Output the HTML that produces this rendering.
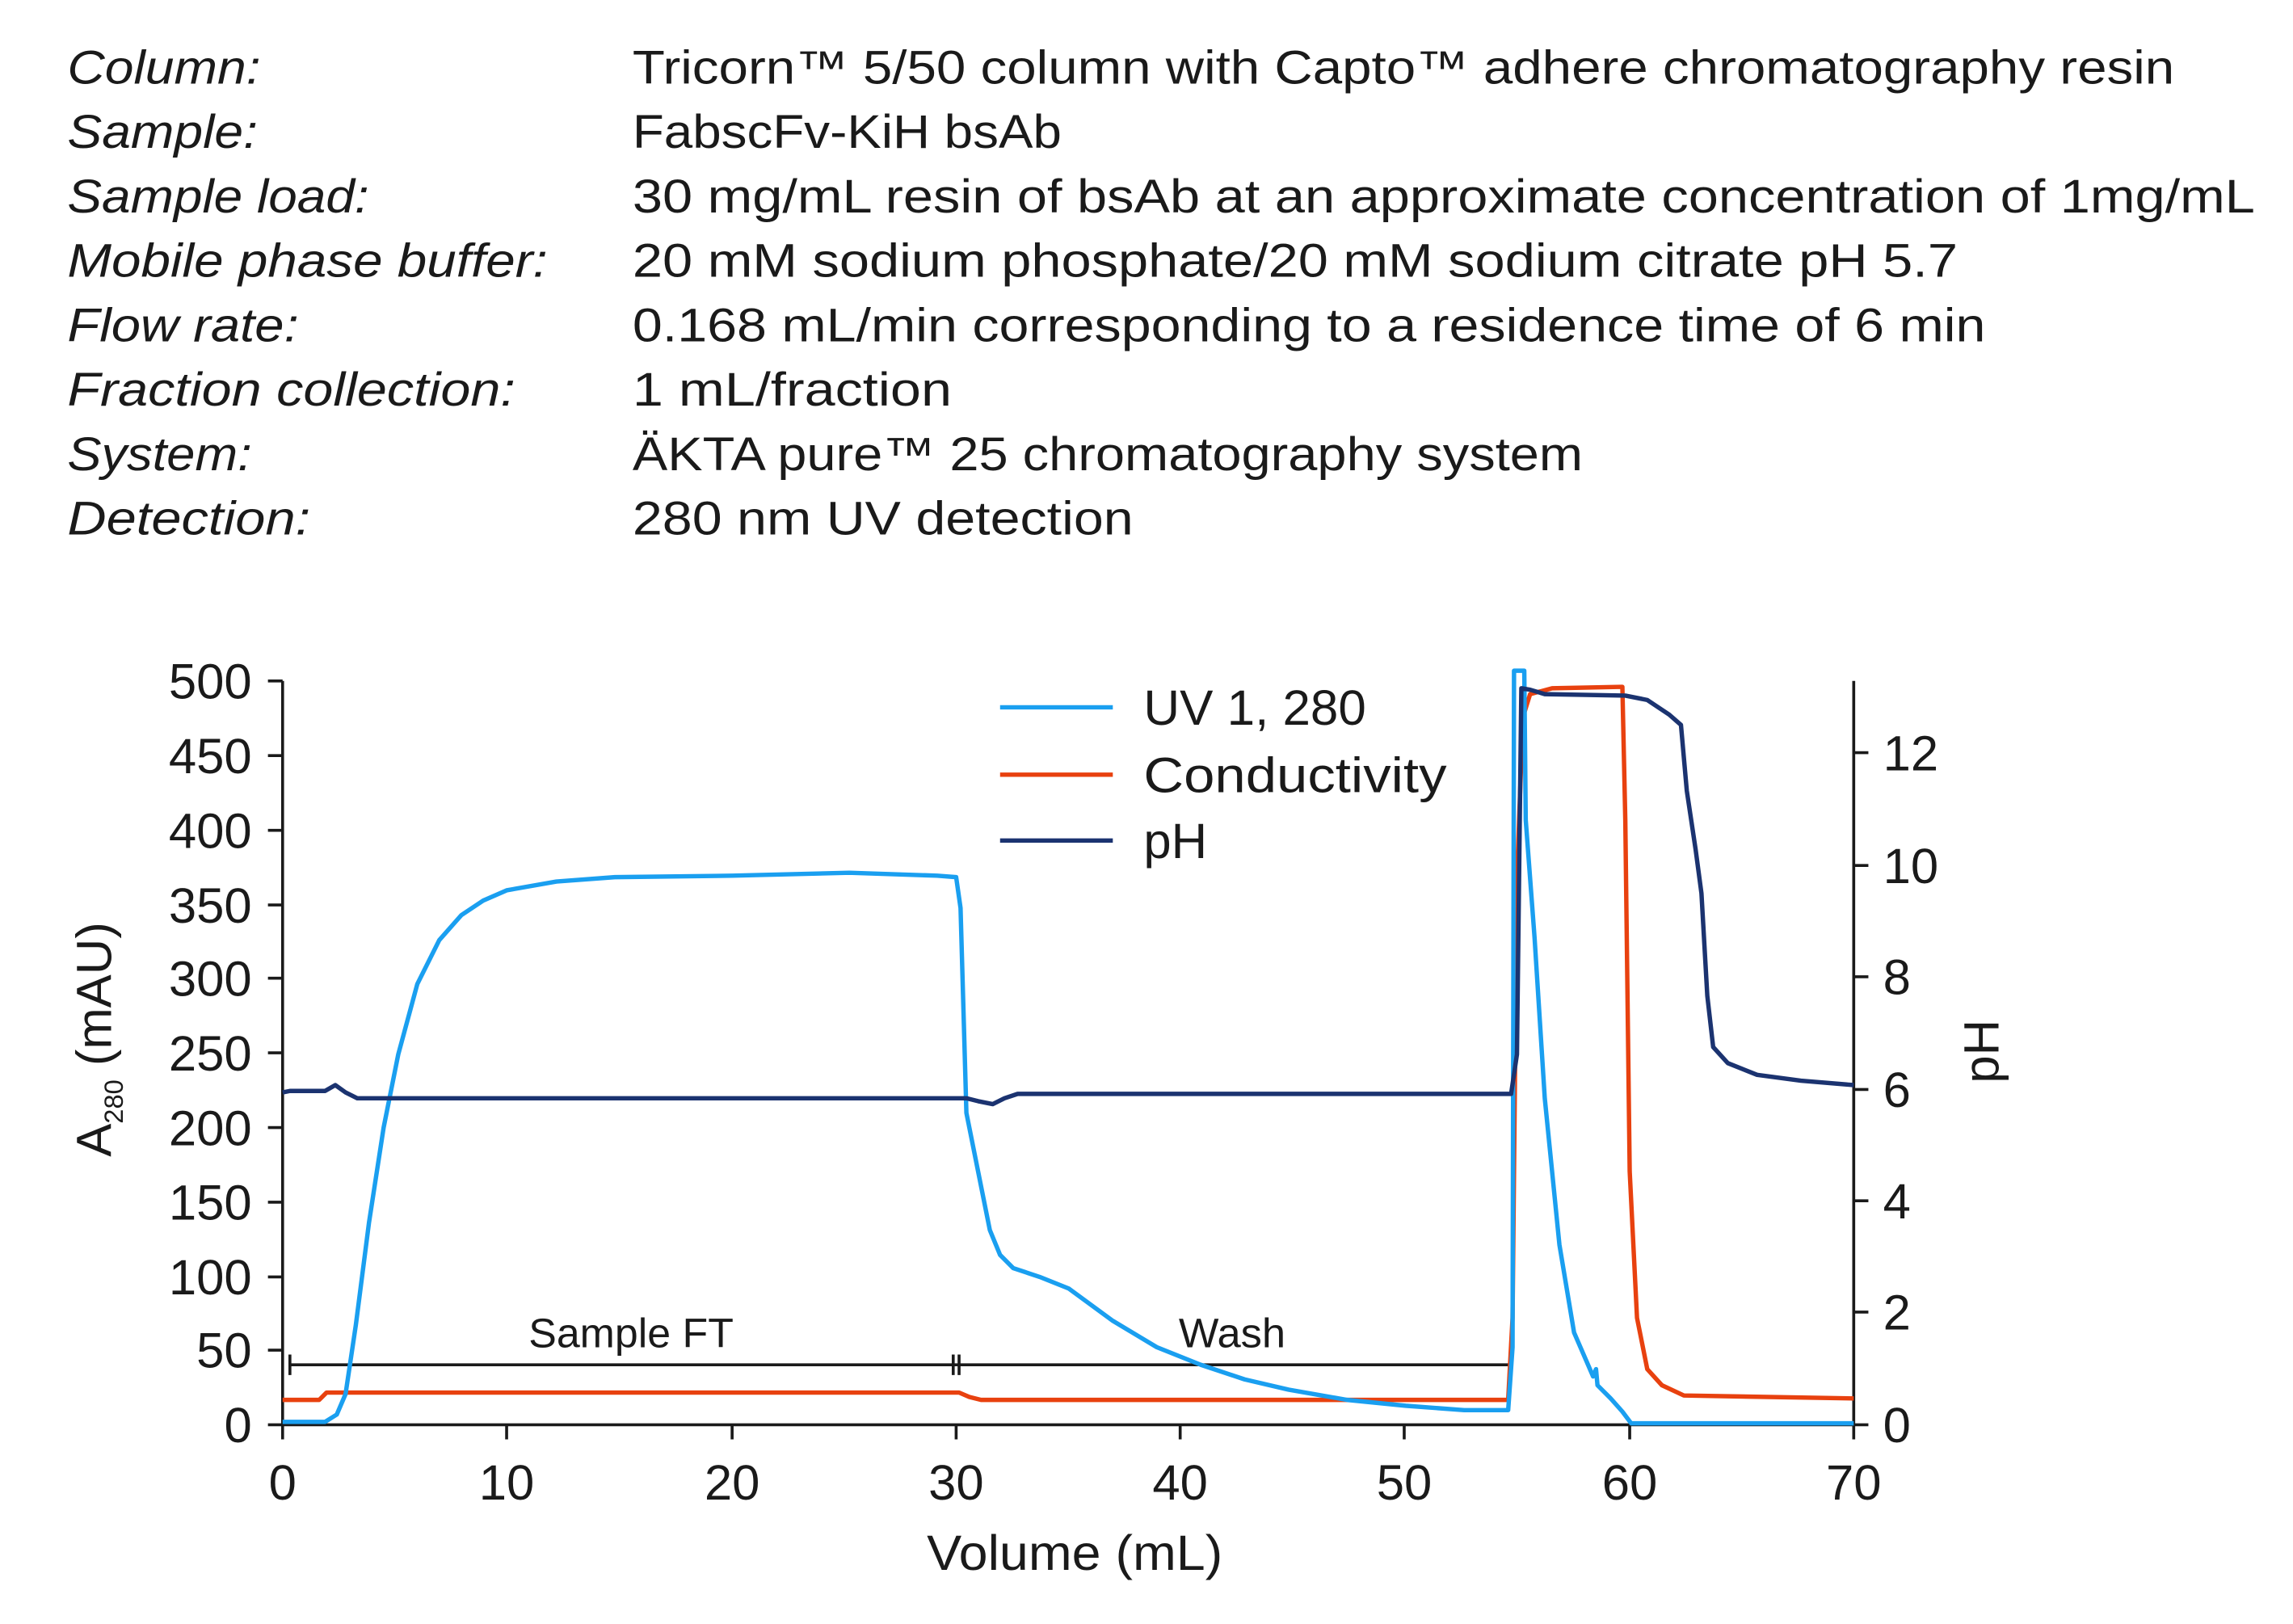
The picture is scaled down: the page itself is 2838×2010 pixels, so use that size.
<!DOCTYPE html>
<html><head><style>html,body{margin:0;padding:0;background:#fff}svg{display:block}</style></head><body>
<svg width="2838" height="2010" viewBox="0 0 1566 1109" xmlns="http://www.w3.org/2000/svg" font-family="Liberation Sans, sans-serif" fill="#1a1a1a">
<g font-size="32">
<g font-style="italic">
<text x="46" y="57" textLength="132" lengthAdjust="spacingAndGlyphs">Column:</text><text x="46" y="101" textLength="130" lengthAdjust="spacingAndGlyphs">Sample:</text><text x="46" y="145" textLength="206" lengthAdjust="spacingAndGlyphs">Sample load:</text><text x="46" y="189" textLength="328" lengthAdjust="spacingAndGlyphs">Mobile phase buffer:</text><text x="46" y="233" textLength="158" lengthAdjust="spacingAndGlyphs">Flow rate:</text><text x="46" y="277" textLength="306" lengthAdjust="spacingAndGlyphs">Fraction collection:</text><text x="46" y="321" textLength="126" lengthAdjust="spacingAndGlyphs">System:</text><text x="46" y="365" textLength="166" lengthAdjust="spacingAndGlyphs">Detection:</text>
</g>
<text x="432" y="57" textLength="1053" lengthAdjust="spacingAndGlyphs">Tricorn™ 5/50 column with Capto™ adhere chromatography resin</text>
<text x="432" y="101" textLength="293" lengthAdjust="spacingAndGlyphs">FabscFv-KiH bsAb</text>
<text x="432" y="145" textLength="1108" lengthAdjust="spacingAndGlyphs">30 mg/mL resin of bsAb at an approximate concentration of 1mg/mL</text>
<text x="432" y="189" textLength="905" lengthAdjust="spacingAndGlyphs">20 mM sodium phosphate/20 mM sodium citrate pH 5.7</text>
<text x="432" y="233" textLength="924" lengthAdjust="spacingAndGlyphs">0.168 mL/min corresponding to a residence time of 6 min</text>
<text x="432" y="277" textLength="218" lengthAdjust="spacingAndGlyphs">1 mL/fraction</text>
<text x="432" y="321" textLength="649" lengthAdjust="spacingAndGlyphs">ÄKTA pure™ 25 chromatography system</text>
<text x="432" y="365" textLength="342" lengthAdjust="spacingAndGlyphs">280 nm UV detection</text>
</g>
<g stroke="#1a1a1a" stroke-width="2" fill="none">
<path d="M193,465V973H1266V465"/>
<path d="M183,465h10M183,516h10M183,567h10M183,618h10M183,668h10M183,719h10M183,770h10M183,821h10M183,872h10M183,922h10M183,973h10"/>
<path d="M193,973v10M346,973v10M500,973v10M653,973v10M806,973v10M959,973v10M1113,973v10M1266,973v10"/>
<path d="M1266,514h10M1266,591h10M1266,667h10M1266,744h10M1266,820h10M1266,896h10M1266,973h10"/>
</g>
<g font-size="34" text-anchor="end">
<text x="172" y="477">500</text><text x="172" y="528">450</text><text x="172" y="579">400</text><text x="172" y="630">350</text><text x="172" y="680">300</text><text x="172" y="731">250</text><text x="172" y="782">200</text><text x="172" y="833">150</text><text x="172" y="884">100</text><text x="172" y="934">50</text><text x="172" y="985">0</text>
</g>
<g font-size="34" text-anchor="middle">
<text x="193" y="1024">0</text><text x="346" y="1024">10</text><text x="500" y="1024">20</text><text x="653" y="1024">30</text><text x="806" y="1024">40</text><text x="959" y="1024">50</text><text x="1113" y="1024">60</text><text x="1266" y="1024">70</text>
</g>
<text font-size="34" x="633" y="1072" textLength="202" lengthAdjust="spacingAndGlyphs">Volume (mL)</text>
<g font-size="34">
<text x="1286" y="526">12</text><text x="1286" y="603">10</text><text x="1286" y="679">8</text><text x="1286" y="756">6</text><text x="1286" y="832">4</text><text x="1286" y="908">2</text><text x="1286" y="985">0</text>
</g>
<text font-size="34" transform="translate(76,790) rotate(-90)">A<tspan font-size="18" dy="8">280</tspan><tspan dy="-8"> (mAU)</tspan></text>
<text font-size="34" text-anchor="middle" transform="translate(1365,718) rotate(-90)">pH</text>
<g stroke-width="3" fill="none" stroke-linejoin="round">
<path stroke="#1a1a1a" stroke-width="2" d="M198,932H1032M198,925v14M651,925v14M655,925v14"/>
<path stroke="#e8410f" d="M193,956H218L223,951H655L662,954L670,956H1030L1033,900L1036,600L1040,490L1045,474L1060,470L1108,469L1110,560L1113,800L1118,900L1125,935L1135,946L1150,953L1266,955"/>
<path stroke="#1a9ff0" d="M193,971H222L230,966L236,952L243,905L252,835L262,770L272,720L285,672L300,642L315,625L330,615L346,608L380,602L420,599L500,598L580,596L640,598L653,599L656,620L660,760L668,800L676,840L683,857L692,866L710,872L730,880L760,902L790,920L820,932L850,942L880,949L920,956L960,960L1000,963L1030,963L1033,920L1034,458L1041,458L1042,560L1048,640L1055,750L1065,850L1075,910L1088,940L1090,935L1091,946L1100,955L1108,964L1114,972L1266,972"/>
<path stroke="#1b3370" d="M193,746L198,745H222L229,741L236,746L244,750H660L668,752L678,754L686,750L695,747H1032L1036,720L1039,470L1045,471L1055,474L1110,475L1125,478L1140,488L1148,495L1152,540L1158,580L1162,610L1166,680L1170,715L1180,726L1200,734L1230,738L1266,741"/>
</g>
<g stroke-width="3">
<path stroke="#1a9ff0" d="M683,483H760"/><path stroke="#e8410f" d="M683,529H760"/><path stroke="#1b3370" d="M683,574H760"/>
</g>
<g font-size="34"><text x="781" y="495" textLength="152" lengthAdjust="spacingAndGlyphs">UV 1, 280</text><text x="781" y="541" textLength="207" lengthAdjust="spacingAndGlyphs">Conductivity</text><text x="781" y="586">pH</text></g>
<g font-size="28"><text x="361" y="920" textLength="140" lengthAdjust="spacingAndGlyphs">Sample FT</text><text x="805" y="920" textLength="73" lengthAdjust="spacingAndGlyphs">Wash</text></g>
</svg>
</body></html>
